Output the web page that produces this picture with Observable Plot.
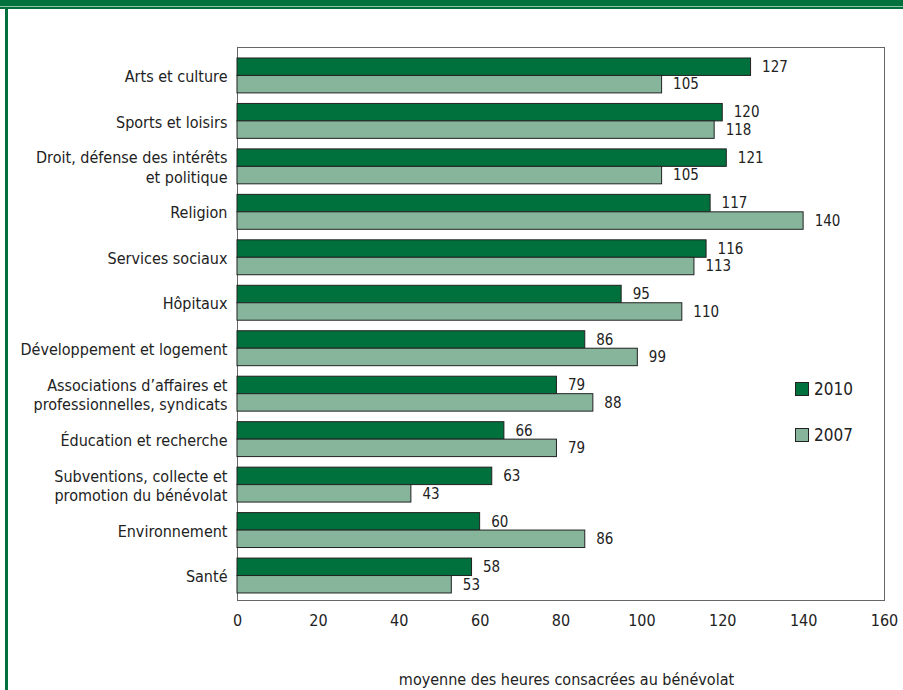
<!DOCTYPE html>
<html><head><meta charset="utf-8">
<script src="https://cdn.jsdelivr.net/npm/d3@7"></script>
<script src="https://cdn.jsdelivr.net/npm/@observablehq/plot@0.6"></script>
<style>
body{margin:0;background:#fff;font-family:"DejaVu Sans Condensed","DejaVu Sans",sans-serif;}
#wrap{position:relative;width:903px;height:690px;overflow:hidden;}
#topbar{position:absolute;left:0;top:0;width:903px;height:9px;background:#00703c;}
#topline{position:absolute;left:0;top:6px;width:903px;height:1px;background:#8cc4a4;}
#leftbar{position:absolute;left:5px;top:9px;width:3px;height:681px;background:#00703c;}
#chart{position:absolute;left:0;top:0;}
.leg{position:absolute;left:795px;font-size:17px;color:#222;display:flex;align-items:center;}
.sw{width:14px;height:14px;border:1px solid #222;margin-right:5px;box-sizing:border-box;}
#xtitle{position:absolute;left:243px;width:647px;top:670px;text-align:center;font-size:16px;color:#222;line-height:20px;}
</style></head>
<body><div id="wrap">
<div id="chart"></div>
<div id="topbar"></div><div id="topline"></div><div id="leftbar"></div>
<div class="leg" style="top:379px"><div class="sw" style="background:#00703c"></div>2010</div>
<div class="leg" style="top:425px"><div class="sw" style="background:#86b59b"></div>2007</div>
<div id="xtitle">moyenne des heures consacrées au bénévolat</div>
</div>
<script>
const categories = ["Arts et culture","Sports et loisirs","Droit, défense des intérêts\net politique","Religion","Services sociaux","Hôpitaux","Développement et logement","Associations d’affaires et\nprofessionnelles, syndicats","Éducation et recherche","Subventions, collecte et\npromotion du bénévolat","Environnement","Santé"];
const values2010 = [127,120,121,117,116,95,86,79,66,63,60,58];
const values2007 = [105,118,105,140,113,110,99,88,79,43,86,53];
const xTicks = [0,20,40,60,80,100,120,140,160];

const W = 903, H = 690, mT = 47, mB = 90, mL = 237, mR = 19;
const pIn = 0.232, pOut = 0.198, al = 0.61;
const bw = d3.scaleBand().domain(categories).range([mT, H - mB]).paddingInner(pIn).paddingOuter(pOut).align(al).bandwidth();

const d10 = categories.map((c,i)=>({c, v: values2010[i]}));
const d07 = categories.map((c,i)=>({c, v: values2007[i]}));

const font = '"DejaVu Sans Condensed","DejaVu Sans",sans-serif';
const chart = Plot.plot({
  width: W, height: H,
  marginTop: mT, marginBottom: mB, marginLeft: mL, marginRight: mR,
  style: {fontFamily: font, fontSize: "16px", color: "#222", background: "transparent"},
  x: {domain: [0,160], ticks: xTicks, tickSize: 0, tickPadding: 14, label: null, line: true},
  y: {domain: categories, paddingInner: pIn, paddingOuter: pOut, align: al, round: false, axis: null},
  marks: [
    Plot.frame({stroke: "#666"}),
    Plot.barX(d10, {x: "v", y: "c", fill: "#00703c", stroke: "#222", strokeWidth: 1, insetBottom: bw/2}),
    Plot.barX(d07, {x: "v", y: "c", fill: "#86b59b", stroke: "#222", strokeWidth: 1, insetTop: bw/2}),
    Plot.text(d10, {x: "v", y: "c", text: d => String(d.v), dy: -bw/4, dx: 11, textAnchor: "start", fill: "#222", fontSize: 15}),
    Plot.text(d07, {x: "v", y: "c", text: d => String(d.v), dy: bw/4, dx: 11, textAnchor: "start", fill: "#222", fontSize: 15}),
    Plot.text(categories, {y: d => d, text: d => d, frameAnchor: "left", dx: -10, textAnchor: "end", lineAnchor: "middle", fill: "#222", lineHeight: 1.2})
  ]
});
document.getElementById("chart").appendChild(chart);
</script>
</body></html>
